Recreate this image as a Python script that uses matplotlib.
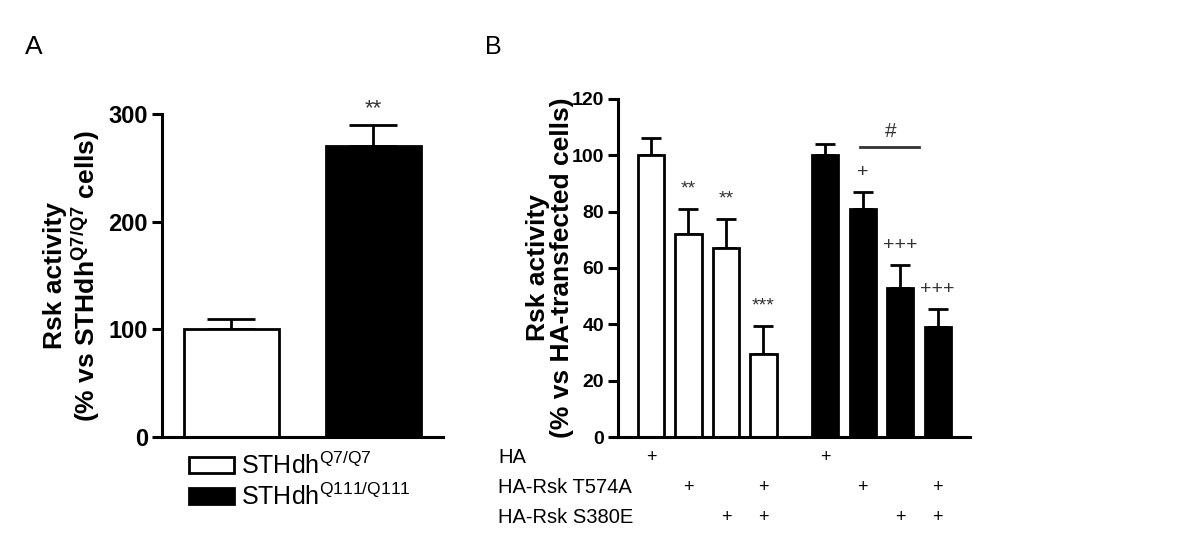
import matplotlib
matplotlib.use("Agg")
import matplotlib.pyplot as plt
import matplotlib.transforms as mtransforms

plt.rcParams["font.family"] = ["Liberation Sans", "DejaVu Sans"]
plt.rcParams["mathtext.default"] = "regular"

# panel A
a_labels = ["STHdh$^{Q7/Q7}$", "STHdh$^{Q111/Q111}$"]
a_values = [100, 270]
a_errors = [10, 20]
a_stars = ["", "**"]

# panel B
b_values = [100, 72, 67, 29.5, 100, 81, 53, 39]
b_errors = [6, 9, 10.5, 10, 4, 6, 8, 6.5]
b_marks = ["", "**", "**", "***", "", "+", "+++", "+++"]
b_colors = ["white"] * 4 + ["black"] * 4
b_pos = [0, 1, 2, 3, 4.65, 5.65, 6.65, 7.65]
row_names = ["HA", "HA-Rsk T574A", "HA-Rsk S380E"]
row_plus = [
    [1, 0, 0, 0, 1, 0, 0, 0],
    [0, 1, 0, 1, 0, 1, 0, 1],
    [0, 0, 1, 1, 0, 0, 1, 1],
]

fig = plt.figure(figsize=(12, 5.56), dpi=100)
axA = fig.add_axes([0.135, 0.214, 0.234, 0.581])
axB = fig.add_axes([0.515, 0.214, 0.293, 0.608])


def style_axis(ax, size):
    for s in ["top", "right"]:
        ax.spines[s].set_visible(False)
    for s in ["left", "bottom"]:
        ax.spines[s].set_linewidth(2.2)
    ax.tick_params(axis="y", direction="out", length=7, width=2.2, labelsize=size, pad=3)
    ax.tick_params(axis="x", length=0, labelbottom=False)
    for t in ax.get_yticklabels():
        t.set_fontweight("bold")


# --- A ---
a_x = list(range(len(a_values)))
bars = axA.bar(a_x, a_values, width=0.67, color=["white", "black"], edgecolor="black", linewidth=2, zorder=2)
axA.errorbar(a_x, a_values, yerr=[[0] * len(a_errors), a_errors], fmt="none", ecolor="black",
             elinewidth=2, capsize=17, capthick=2, zorder=1)
for x, v, e, s in zip(a_x, a_values, a_errors, a_stars):
    if s:
        axA.text(x, v + e + 5, s, ha="center", va="bottom", fontsize=16, color="#333333")
axA.set_xlim(-0.49, 1.49)
axA.set_ylim(0, 300)
axA.set_yticks([0, 100, 200, 300])
style_axis(axA, 17)
axA.set_ylabel("Rsk activity\n(% vs STHdh$^{Q7/Q7}$ cells)", fontsize=19, fontweight="bold", linespacing=1.1)
axA.yaxis.set_label_coords(-0.215, 0.5)
axA.legend(bars, a_labels, loc="upper left", bbox_to_anchor=(0.06, -0.015), frameon=False,
           fontsize=18, handlelength=1.8, handleheight=0.6, handletextpad=0.3, labelspacing=0.15,
           borderaxespad=0)
fig.text(0.021, 0.915, "A", fontsize=19, ha="left", va="center")

# --- B ---
axB.bar(b_pos, b_values, width=0.7, color=b_colors, edgecolor="black", linewidth=2, zorder=2)
axB.errorbar(b_pos, b_values, yerr=[[0] * len(b_errors), b_errors], fmt="none", ecolor="black",
             elinewidth=2, capsize=7.5, capthick=2, zorder=1)
for x, v, e, s in zip(b_pos, b_values, b_errors, b_marks):
    if s:
        axB.text(x, v + e + 4, s, ha="center", va="bottom", fontsize=14, color="#333333")
# bracket over bars 6-8
axB.plot([b_pos[5] - 0.08, b_pos[6] + 0.5], [103, 103], color="#333333", lw=2, clip_on=False)
axB.text(6.4, 105, "#", ha="center", va="bottom", fontsize=15, color="#333333")
axB.set_xlim(-0.88, 8.5)
axB.set_ylim(0, 120)
axB.set_yticks(range(0, 121, 20))
style_axis(axB, 14)
axB.set_ylabel("Rsk activity\n(% vs HA-transfected cells)", fontsize=19, fontweight="bold", linespacing=1.0)
axB.yaxis.set_label_coords(-0.125, 0.5)
fig.text(0.404, 0.915, "B", fontsize=18, ha="left", va="center")

trans = mtransforms.blended_transform_factory(axB.transData, axB.transAxes)
row_y = [-0.062, -0.15, -0.239]
for name, flags, y in zip(row_names, row_plus, row_y):
    axB.text(-0.34, y, name, transform=axB.transAxes, ha="left", va="center", fontsize=14.5)
    for x, f in zip(b_pos, flags):
        if f:
            axB.text(x, y, "+", transform=trans, ha="center", va="center", fontsize=13)

fig.savefig("out.png", dpi=100)
